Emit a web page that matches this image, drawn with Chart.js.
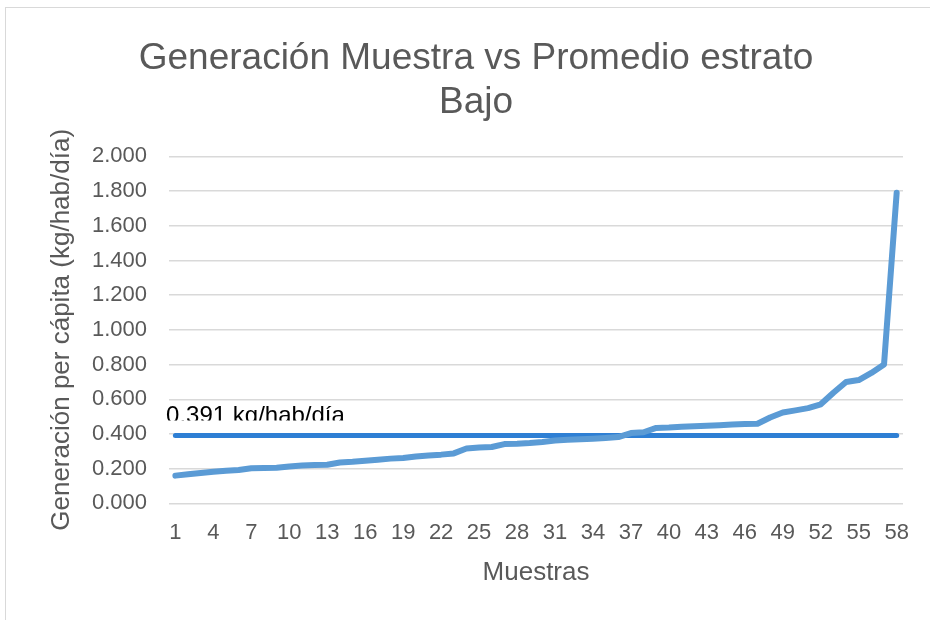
<!DOCTYPE html>
<html>
<head>
<meta charset="utf-8">
<script src="https://cdn.jsdelivr.net/npm/chart.js@4"></script>
<style>
  body { margin: 0; background: #fff; }
  #frame { position: absolute; left: 5px; top: 7px; width: 940px; height: 620px; border: 1px solid #d9d9d9; }
  #wrap { position: absolute; left: 0; top: 0; width: 930px; height: 620px; }
</style>
</head>
<body>
<div id="frame"></div>
<div id="wrap"><canvas id="chart"></canvas></div>
<script>
// muestras 1..58
var muestras = [];
for (let i = 1; i <= 58; i++) muestras.push(String(i));

// generacion per capita (kg/hab/dia)
var generacion = [
  0.160, 0.168, 0.175, 0.182, 0.188, 0.192, 0.202, 0.204, 0.206, 0.213,
  0.218, 0.221, 0.223, 0.236, 0.240, 0.246, 0.252, 0.258, 0.262, 0.270,
  0.276, 0.281, 0.288, 0.316, 0.322, 0.325, 0.342, 0.344, 0.348, 0.354,
  0.362, 0.367, 0.370, 0.373, 0.377, 0.382, 0.405, 0.410, 0.435, 0.437,
  0.441, 0.444, 0.447, 0.451, 0.454, 0.457, 0.459, 0.495, 0.524, 0.536,
  0.549, 0.571, 0.638, 0.700, 0.711, 0.752, 0.800, 1.790
];

var promedio = 0.391;
var promedioLabel = '0.391 kg/hab/día';
var yTicks = [0, 0.2, 0.4, 0.6, 0.8, 1.0, 1.2, 1.4, 1.6, 1.8, 2.0];

const promedioSerie = muestras.map(() => promedio);

// etiqueta del promedio, cortada por abajo como en el original
const labelPlugin = {
  id: 'promedioLabel',
  afterDatasetsDraw(chart) {
    const { ctx, chartArea, scales } = chart;
    const y = scales.y.getPixelForValue(promedio);
    ctx.save();
    ctx.beginPath();
    ctx.rect(0, 0, chart.width, y - 15);
    ctx.clip();
    ctx.fillStyle = '#000';
    ctx.font = '24px "Liberation Sans", Arial, sans-serif';
    ctx.textBaseline = 'alphabetic';
    ctx.fillText(promedioLabel, chartArea.left - 3, y - 13);
    ctx.restore();
  }
};

Chart.defaults.font.family = '"Liberation Sans", Arial, sans-serif';
Chart.defaults.color = '#595959';

new Chart(document.getElementById('chart'), {
  type: 'line',
  data: {
    labels: muestras,
    datasets: [
      {
        label: 'Generación',
        data: generacion,
        borderColor: '#5b9bd5',
        borderWidth: 6,
        pointRadius: 0,
        tension: 0,
        borderCapStyle: 'round',
        borderJoinStyle: 'round'
      },
      {
        label: 'Promedio',
        data: promedioSerie,
        borderColor: '#2e7fd4',
        borderWidth: 5,
        pointRadius: 0,
        borderCapStyle: 'round'
      }
    ]
  },
  options: {
    responsive: true,
    maintainAspectRatio: false,
    animation: false,
    layout: { padding: { left: 49, right: 27, top: 37, bottom: 32 } },
    plugins: {
      legend: { display: false },
      tooltip: { enabled: false },
      title: {
        display: true,
        text: ['Generación Muestra vs Promedio estrato', 'Bajo'],
        font: { size: 37, weight: 'normal', lineHeight: 1.18 },
        color: '#595959',
        padding: { top: 0, bottom: 32 }
      }
    },
    scales: {
      x: {
        offset: true,
        grid: { display: false, drawTicks: true, tickLength: 11 },
        border: { display: false },
        ticks: {
          autoSkip: false,
          maxRotation: 0,
          font: { size: 22 },
          color: '#595959',
          padding: 5,
          callback: function (v, i) { return i % 3 === 0 ? this.getLabelForValue(v) : ''; }
        },
        title: {
          display: true,
          text: 'Muestras',
          font: { size: 26 },
          color: '#595959',
          padding: { top: 6, bottom: 0 }
        }
      },
      y: {
        min: 0,
        max: 2,
        afterBuildTicks: (axis) => { axis.ticks = yTicks.map(v => ({ value: v })); },
        grid: { color: '#d9d9d9', lineWidth: 1.5, drawTicks: true, tickLength: 15, tickColor: 'rgba(0,0,0,0)' },
        border: { display: false },
        ticks: {
          font: { size: 22 },
          color: '#595959',
          padding: 7,
          callback: (v) => Number(v).toFixed(3)
        },
        title: {
          display: true,
          text: 'Generación per cápita (kg/hab/día)',
          font: { size: 26, lineHeight: 1.0 },
          color: '#595959',
          padding: { top: 0, bottom: 10 }
        }
      }
    }
  },
  plugins: [labelPlugin]
});
</script>
</body>
</html>
